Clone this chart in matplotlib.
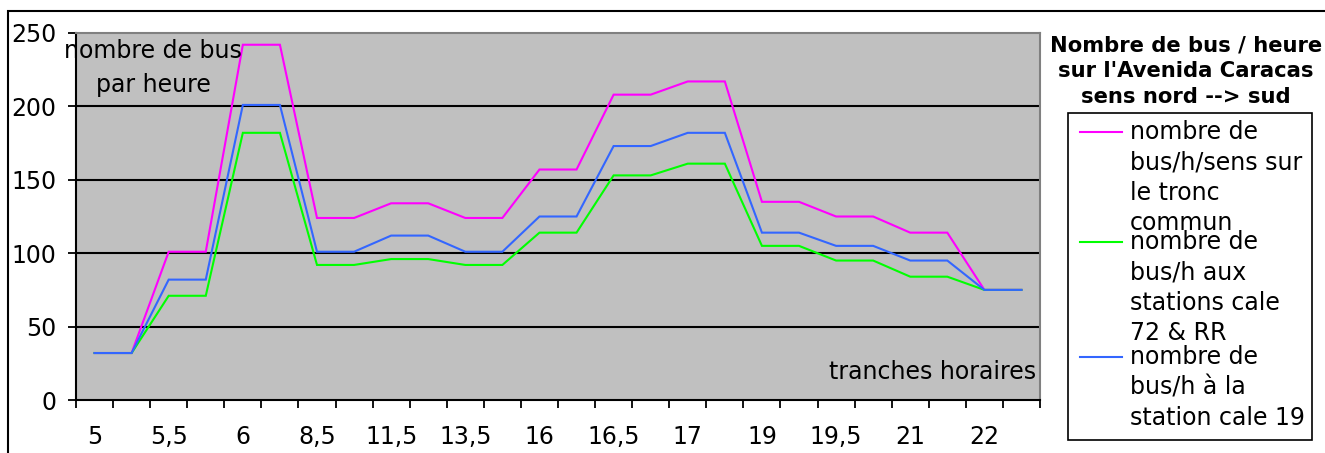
import matplotlib
matplotlib.use("Agg")
import matplotlib.pyplot as plt
from matplotlib.patches import Rectangle
from matplotlib.lines import Line2D
from matplotlib.ticker import FixedLocator

plt.rcParams['font.family'] = ['DejaVu Sans']

# Data: start/end points of each time slot ("tranches horaires")
categories = ["5", "5,5", "5,5", "6", "6", "8,5", "8,5", "11,5", "11,5", "13,5",
              "13,5", "16", "16", "16,5", "16,5", "17", "17", "19", "19", "19,5",
              "19,5", "21", "21", "22", "22", "23"]
tronc_commun = [32, 32, 101, 101, 242, 242, 124, 124, 134, 134, 124, 124, 157, 157,
                208, 208, 217, 217, 135, 135, 125, 125, 114, 114, 75, 75]
cale_72_rr = [32, 32, 71, 71, 182, 182, 92, 92, 96, 96, 92, 92, 114, 114,
              153, 153, 161, 161, 105, 105, 95, 95, 84, 84, 75, 75]
cale_19 = [32, 32, 82, 82, 201, 201, 101, 101, 112, 112, 101, 101, 125, 125,
           173, 173, 182, 182, 114, 114, 105, 105, 95, 95, 75, 75]
yticks = [0, 50, 100, 150, 200, 250]

series_labels = ["nombre de\nbus/h/sens sur\nle tronc\ncommun",
                 "nombre de\nbus/h aux\nstations cale\n72 & RR",
                 "nombre de\nbus/h à la\nstation cale 19"]
colors = ["#FF00FF", "#00FF00", "#3366FF"]

W, H = 1325, 453
fig = plt.figure(figsize=(W / 100, H / 100), dpi=100)
fig.patch.set_facecolor("white")

def fx(px):
    return px / W

def fy(py):
    return 1 - py / H

FS = 17

# outer chart frame (only top and left visible)
fig.patches.append(Rectangle((fx(8), -0.2), 2, fy(11) + 0.2, transform=fig.transFigure,
                             fill=False, ec="black", lw=1.5, zorder=0))

ax = fig.add_axes([fx(76), fy(400), fx(1040) - fx(76), fy(33) - fy(400)])
ax.set_facecolor("#C0C0C0")

x = list(range(len(categories)))
for vals, c in zip([tronc_commun, cale_72_rr, cale_19], colors):
    ax.plot(x, vals, color=c, lw=1.5, zorder=3, solid_joinstyle="miter")

ax.set_xlim(-0.5, len(categories) - 0.5)
ax.set_ylim(0, 250)
ax.set_yticks(yticks)
ax.set_yticklabels([str(v) for v in yticks])
for v in yticks[1:-1]:
    ax.axhline(v, color="black", lw=1.5, zorder=2)

# category labels every other category; tick marks between categories
ax.set_xticks(x[::2])
ax.set_xticklabels(categories[::2])
ax.xaxis.set_minor_locator(FixedLocator([i - 0.5 for i in range(len(categories) + 1)]))
ax.tick_params(axis="x", which="major", length=0, pad=18, labelsize=FS)
ax.tick_params(axis="x", which="minor", length=6, width=1.3, color="black", direction="out")
ax.tick_params(axis="y", length=6, width=1.3, direction="out", pad=8, labelsize=FS)

for s in ["left", "bottom"]:
    ax.spines[s].set_color("black")
    ax.spines[s].set_linewidth(1.5)
for s in ["top", "right"]:
    ax.spines[s].set_color("#808080")
    ax.spines[s].set_linewidth(1.5)

ax.text(fx(153), fy(68), "nombre de bus\npar heure", transform=fig.transFigure,
        ha="center", va="center", fontsize=FS, linespacing=1.5, zorder=5)
ax.text(fx(1036), fy(372), "tranches horaires", transform=fig.transFigure,
        ha="right", va="center", fontsize=FS, zorder=5)

# legend title
fig.text(fx(1186), fy(71), "Nombre de bus / heure\nsur l'Avenida Caracas\nsens nord --> sud",
         ha="center", va="center", fontsize=15.2, fontweight="bold", linespacing=1.35)

# legend box
fig.patches.append(Rectangle((fx(1068), fy(440)), fx(1312) - fx(1068), fy(113) - fy(440),
                             transform=fig.transFigure, fill=False, ec="black", lw=1.2))
entry_tops = [132, 242, 357]
for lab, c, yt in zip(series_labels, colors, entry_tops):
    fig.lines.append(Line2D([fx(1080), fx(1122)], [fy(yt), fy(yt)], color=c, lw=1.5,
                            transform=fig.transFigure))
    fig.text(fx(1130), fy(yt - 12), lab, ha="left", va="top", fontsize=FS,
             linespacing=1.33)

fig.savefig("out.png", dpi=100)
